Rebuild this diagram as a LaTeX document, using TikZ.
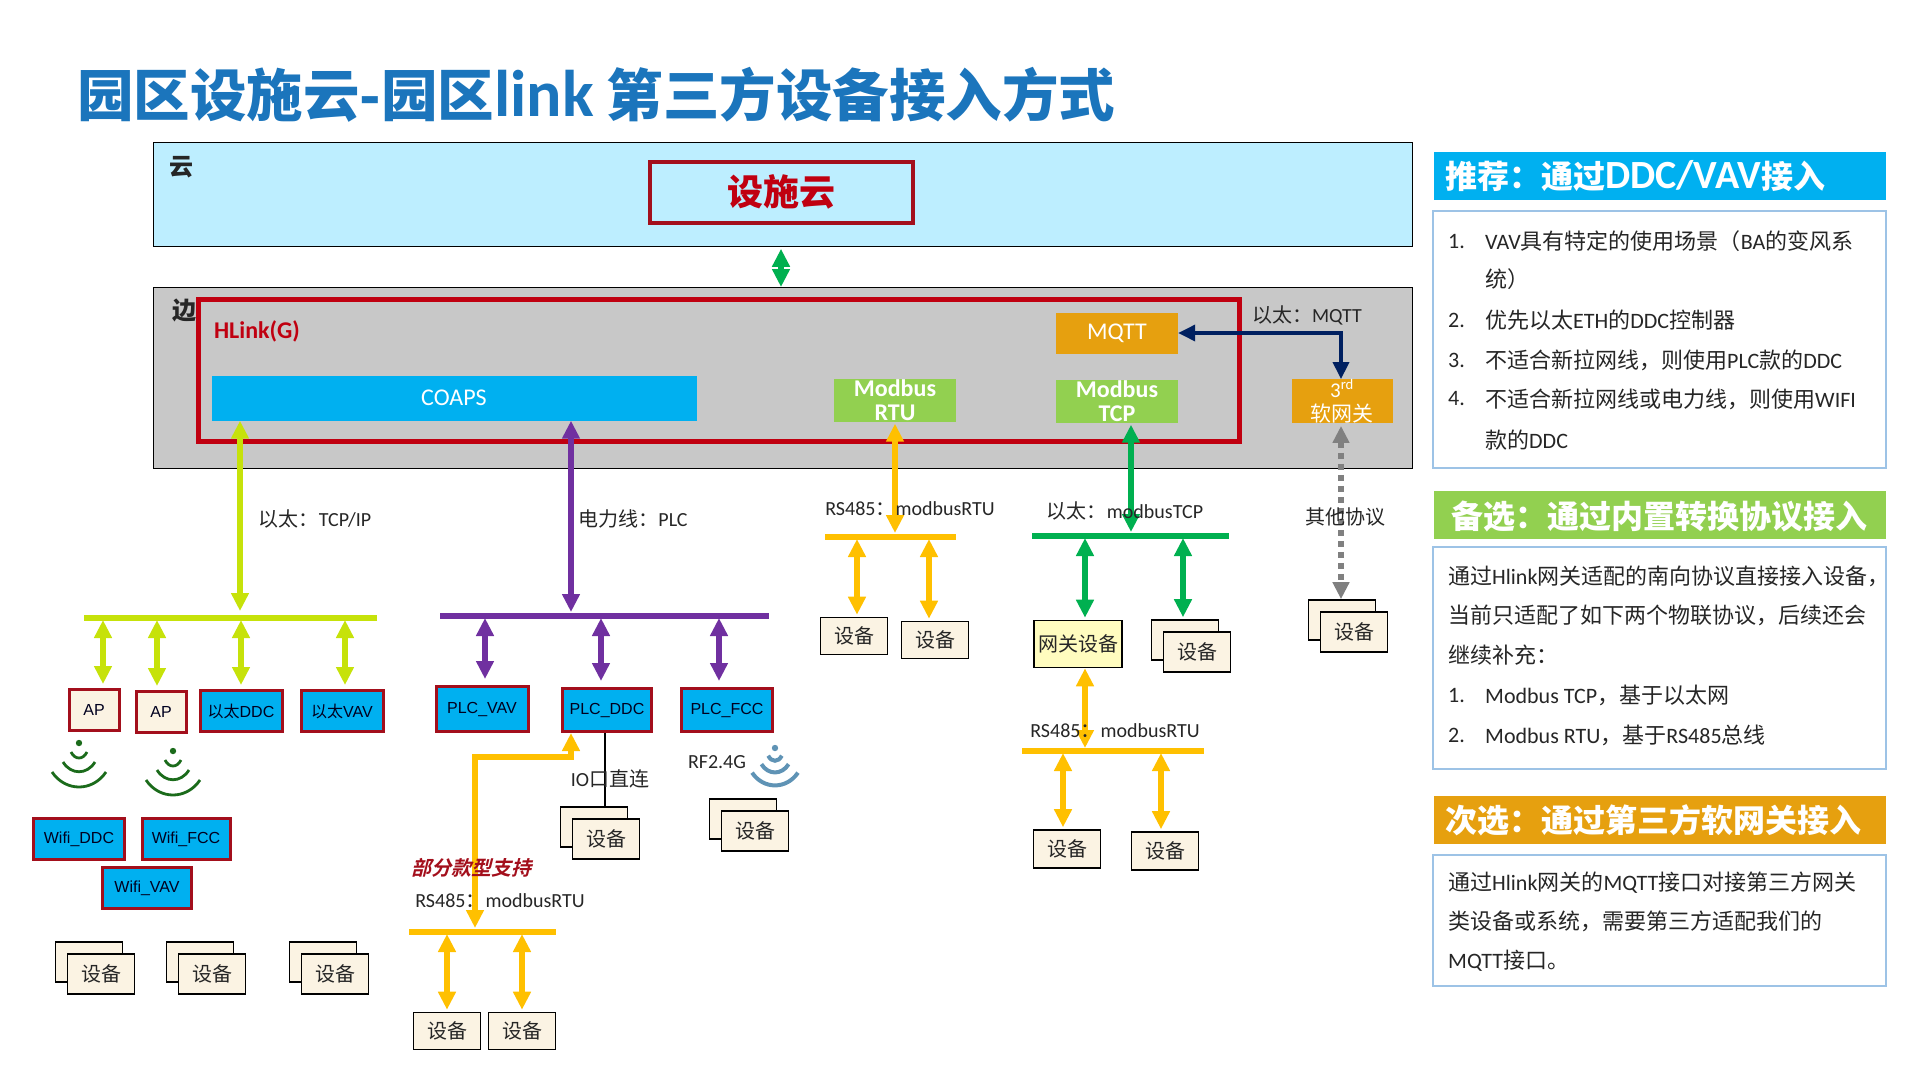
\documentclass[tikz,border=0pt]{standalone}
\usepackage{fontspec}
\setmainfont{Carlito}
\newfontfamily\cjk{Noto Sans CJK SC}
\newfontfamily\cjkslant[FakeSlant=0.25]{Noto Sans CJK SC Bold}
\newfontfamily\arial{Liberation Sans}
\usetikzlibrary{arrows.meta,calc}
\newcommand{\zh}[1]{{\cjk #1}}
\definecolor{cloudblue}{HTML}{BDEEFF}
\definecolor{edgegray}{HTML}{C8C8C8}
\definecolor{hred}{HTML}{C00010}
\definecolor{dred}{HTML}{A30F1C}
\definecolor{cblue}{HTML}{00B0F0}
\definecolor{cgreen}{HTML}{92D050}
\definecolor{corange}{HTML}{E6A00F}
\definecolor{clime}{HTML}{C6E20A}
\definecolor{cpurple}{HTML}{7030A0}
\definecolor{cyellow}{HTML}{FFC000}
\definecolor{cemerald}{HTML}{00B050}
\definecolor{cnavy}{HTML}{002060}
\definecolor{cream}{HTML}{FBF3E3}
\definecolor{panelline}{HTML}{9DC3E6}
\definecolor{titleblue}{HTML}{1B75BC}
\definecolor{wifigreen}{HTML}{1B6B1B}
\definecolor{wifiblue}{HTML}{5F93B5}
\tikzset{
	every node/.style={inner sep=0pt,text=black!85},
	biarrow/.style={<->,>={Triangle[length=18pt,width=17pt]},line width=5.5pt},
	busline/.style={line width=5.5pt},
	blockbox/.style={fill=#1,text=white,minimum width=122,minimum height=43,align=center,font=\fontsize{24}{24}\selectfont},
	ctrlbox/.style={draw=dred,line width=3pt,fill=cblue,minimum width=#1,minimum height=41,text=black!88!blue,font=\arial\fontsize{16}{18}\selectfont},
	devbox/.style={draw=black,line width=1.6pt,fill=cream,minimum width=67,minimum height=40,font=\fontsize{20}{22}\selectfont},
	lbl/.style={anchor=center,font=\fontsize{20}{22}\selectfont},
	panelhead/.style={fill=#1,minimum width=452,anchor=north west,minimum height=48},
	headtext/.style={anchor=west,text=white,font=\fontsize{32}{34}\selectfont\bfseries},
	panelbox/.style={draw=panelline,line width=2pt,fill=white,minimum width=453,anchor=north west},
	ptext/.style={anchor=west,font=\fontsize{22}{24}\selectfont}
}
\begin{document}
\begin{tikzpicture}[x=1pt,y=-1pt,line join=miter]
	\useasboundingbox (0,0) rectangle (1920,1080);
	\node[anchor=west,text=titleblue,font=\fontsize{56.500}{59}\selectfont\bfseries] (title) at (77,95) {\zh{园区设施云-园区}{\fontsize{66}{70}\selectfont link} \zh{第三方设备接入方式}};
	% cloud and edge layers
	\node[draw=black,fill=cloudblue,line width=.8pt,minimum width=1259,minimum height=104,anchor=north west] (cloud) at (152.500,142) {};
	\node[draw=black,fill=edgegray,line width=.8pt,minimum width=1259,minimum height=181,anchor=north west] (edge) at (152.500,287) {};
	\node[font=\fontsize{24}{26}\selectfont\bfseries] (yun) at (181,167) {\zh{云}};
	\node[font=\fontsize{24}{26}\selectfont\bfseries] (bian) at (184,310) {\zh{边}};
	\node[draw=dred,line width=4pt,minimum width=263,minimum height=61,text=hred,font=\fontsize{36}{38}\selectfont\bfseries] (facility) at (781,192) {\zh{设施云}};
	\node[draw=hred,line width=5pt,minimum width=1041,minimum height=142,anchor=north west] (hlink) at (196,297) {};
	\node[anchor=center,text=hred,font=\fontsize{24}{24}\selectfont\bfseries] (hlinklbl) at (257,331) {HLink(G)};
	\node[blockbox=cblue,minimum width=485,minimum height=45] (coaps) at (454,398) {COAPS};
	\node[blockbox=corange,minimum height=41] (mqtt) at (1117,333) {\raisebox{-2pt}{MQTT}};
	\node[blockbox=cgreen,font=\fontsize{24}{24}\selectfont\bfseries] (rtu) at (895,400) {Modbus\\RTU};
	\node[blockbox=cgreen,font=\fontsize{24}{24}\selectfont\bfseries] (tcp) at (1117,401) {Modbus\\TCP};
	\node[blockbox=corange,minimum width=101,font=\fontsize{21}{23}\selectfont] (soft) at (1342,401) {3\textsuperscript{rd}\\[1pt]\zh{软网关}};
	% devices
	\node[ctrlbox=50,fill=cream] (apa) at (94,710) {AP};
	\node[ctrlbox=50,fill=cream] (apb) at (161,712) {AP};
	\node[ctrlbox=82] (ethddc) at (241,711) {\zh{以太}DDC};
	\node[ctrlbox=82] (ethvav) at (342,711) {\zh{以太}VAV};
	\node[ctrlbox=91] (wifiddc) at (79,839) {Wifi\_DDC};
	\node[ctrlbox=88] (wififcc) at (186,839) {Wifi\_FCC};
	\node[ctrlbox=89] (wifivav) at (147,888) {Wifi\_VAV};
	\node[ctrlbox=92,minimum height=45] (plcvav) at (482,709) {PLC\_VAV};
	\node[ctrlbox=89,minimum height=43] (plcddc) at (607,710) {PLC\_DDC};
	\node[ctrlbox=91,minimum height=43] (plcfcc) at (727,710) {PLC\_FCC};
	\foreach \n/\x/\y in {a/89/962,b/200/962,c/323/962,d/594/827,e/743/819,f/1185/640,g/1342/620}{
		\node[devbox] (back\n) at (\x,\y) {};
		\node[devbox] (dev\n) at ($(back\n)+(12,12)$) {\zh{设备}};
	}
	\node[devbox,minimum height=37] (devh) at (447,1031) {\zh{设备}};
	\node[devbox,minimum height=37] (devi) at (522,1031) {\zh{设备}};
	\node[devbox,minimum height=37] (devj) at (854,636) {\zh{设备}};
	\node[devbox,minimum height=37] (devk) at (935,640) {\zh{设备}};
	\node[devbox,fill=yellow!25,minimum width=88,minimum height=47,font=\fontsize{20}{22}\selectfont] (gateway) at (1078,644) {\zh{网关设备}};
	\node[devbox,minimum height=38] (devl) at (1067,849) {\zh{设备}};
	\node[devbox,minimum height=38] (devm) at (1165,851) {\zh{设备}};
	% bus ends and tap points
	\coordinate (limeL) at (84,618);
	\coordinate (limeR) at (377,618);
	\coordinate (purpleL) at (440,616);
	\coordinate (purpleR) at (769,616);
	\coordinate (yellowL) at (825,537);
	\coordinate (yellowR) at (956,537);
	\coordinate (greenL) at (1032,536);
	\coordinate (greenR) at (1229,536);
	\coordinate (lowL) at (409,932);
	\coordinate (lowR) at (556,932);
	\coordinate (midL) at (1022,751);
	\coordinate (midR) at (1204,751);
	\draw[busline,clime] (limeL) -- (limeR);
	\draw[busline,cpurple] (purpleL) -- (purpleR);
	\draw[busline,cyellow] (yellowL) -- (yellowR);
	\draw[busline,cemerald] (greenL) -- (greenR);
	\draw[busline,cyellow] (lowL) -- (lowR);
	\draw[busline,cyellow] (midL) -- (midR);
	\foreach \n/\x/\y in {limeA/103/620,limeB/157/620,limeC/241/620,limeD/345/620,limeT/240/614,
		purpleA/485/618,purpleB/601/618,purpleC/719/618,purpleT/571/612,
		yellowA/857/539,yellowB/929/539,yellowT/895/533,
		greenA/1085/538,greenB/1183/538,greenT/1131/532,
		lowA/447/934,lowB/522/934,lowT/475/928,midA/1063/753,midB/1161/753,midT/1085/748}
		\coordinate (\n) at (\x,\y);
	\coordinate (softTap) at (1341,333);
	\coordinate (ddcTap) at (571,757);
	\coordinate (lowTurn) at (475,757);
	\coordinate (ioTap) at (605,757);
	% connectors
	\draw[biarrow,cemerald] (facility.south |- cloud.south) ++(0,2) coordinate (arrA) -- (arrA |- edge.north);
	\draw[biarrow,clime,shorten >=3pt] (limeT |- coaps.south) -- (limeT);
	\foreach \t/\n in {limeA/apa,limeB/apb,limeC/ethddc,limeD/ethvav}
		\draw[biarrow,clime,shorten >=4pt] (\t) -- (\t |- \n.north);
	\draw[biarrow,cpurple] (purpleT |- coaps.south) -- (purpleT);
	\foreach \t/\n in {purpleA/plcvav,purpleB/plcddc,purpleC/plcfcc}
		\draw[biarrow,cpurple,shorten >=6pt] (\t) -- (\t |- \n.north);
	\draw[biarrow,cyellow,shorten <=2pt] (yellowT |- rtu.south) -- (yellowT);
	\foreach \t/\n in {yellowA/devj,yellowB/devk}
		\draw[biarrow,cyellow,shorten >=2pt] (\t) -- (\t |- \n.north);
	\draw[biarrow,cemerald,shorten <=2pt] (greenT |- tcp.south) -- (greenT);
	\foreach \t/\n in {greenA/gateway,greenB/backf}
		\draw[biarrow,cemerald,shorten >=2pt] (\t) -- (\t |- \n.north);
	\draw[<->,>={Triangle[length=17pt,width=16pt]},line width=3.5pt,cnavy] (mqtt.east) -- (softTap) -- (softTap |- soft.north);
	\draw[<->,>={Triangle[length=17pt,width=16pt]},line width=6pt,gray,dash pattern=on 6pt off 5pt,shorten <=3pt] (softTap |- soft.south) -- (softTap |- backg.north);
	\draw[biarrow,cyellow] (lowT) -- (lowTurn) -- (lowTurn -| ddcTap) -- (ddcTap |- plcddc.south);
	\foreach \t/\n in {lowA/devh,lowB/devi}
		\draw[biarrow,cyellow,shorten >=2pt] (\t) -- (\t |- \n.north);
	\draw[biarrow,cyellow] (gateway.south -| midT) -- (midT);
	\foreach \t/\n in {midA/devl,midB/devm}
		\draw[biarrow,cyellow,shorten >=2pt] (\t) -- (\t |- \n.north);
	\draw[line width=1.4pt,black] (ioTap |- plcddc.south) -- (ioTap |- backd.north);
	% wifi marks
	\foreach \cx/\cy/\c/\s/\w in {79/743/wifigreen/1/2.8,173/751/wifigreen/1/2.8,775/748/wifiblue/.85/4}{
		\fill[\c] (\cx,\cy) circle (3.2);
		\foreach \r/\e/\d in {8/9/8,16/19/13,27/29/20}
			\draw[\c,line width=\w pt] ($(\cx,\cy)+\s*(-\r,\e)$) .. controls ($(\cx,\cy)+\s*(-\r*.5,\e+\d)$) and ($(\cx,\cy)+\s*(\r*.5,\e+\d)$) .. ($(\cx,\cy)+\s*(\r,\e)$);
	}
	% link labels
	\node[lbl] (lblmqtt) at (1307,315) {\zh{以太：}MQTT};
	\node[lbl] (lbltcpip) at (315,519) {\zh{以太：}TCP/IP};
	\node[lbl] (lblplc) at (633,519) {\zh{电力线：}PLC};
	\node[lbl] (lblrtu) at (910,509) {RS485\zh{：}modbusRTU};
	\node[lbl] (lbltcp) at (1125,511) {\zh{以太：}modbusTCP};
	\node[lbl] (lblother) at (1345,517) {\zh{其他协议}};
	\node[lbl] (lblio) at (610,779) {IO\zh{口直连}};
	\node[lbl] (lblrf) at (717,762) {RF2.4G};
	\node[lbl,text=dred,font=\fontsize{20}{22}\selectfont\cjkslant] (lblpart) at (471,868) {部分款型支持};
	\node[lbl] (lbllow) at (500,901) {RS485\zh{：}modbusRTU};
	\node[lbl] (lblmid) at (1115,731) {RS485\zh{：}modbusRTU};
	% right panels
	\node[panelhead=cblue] (heada) at (1434,152) {};
	\node[headtext] (headatxt) at (1445,176) {\zh{推荐：通过}{\fontsize{40}{42}\selectfont DDC/VAV}\zh{接入}};
	\node[panelbox,minimum height=257] (boxa) at (1432,210) {};
	\foreach \y/\n/\t in {241/1./VAV\zh{具有特定的使用场景（}BA\zh{的变风系},279//\zh{统）},320/2./\zh{优先以太}ETH\zh{的}DDC\zh{控制器},360/3./\zh{不适合新拉网线，则使用}PLC\zh{款的}DDC,399/4./\zh{不适合新拉网线或电力线，则使用}WIFI,440//\zh{款的}DDC}{
		\node[ptext] at (1448,\y) {\n};
		\node[ptext] at (1485,\y) {\t};
	}
	\node[panelhead=cgreen] (headb) at (1434,491) {};
	\node[headtext] (headbtxt) at (1451,516) {\zh{备选：通过内置转换协议接入}};
	\node[panelbox,minimum height=222] (boxb) at (1432,546) {};
	\foreach \y/\t in {576/\zh{通过}Hlink\zh{网关适配的南向协议直接接入设备，},615/\zh{当前只适配了如下两个物联协议，后续还会},655/\zh{继续补充：}}
		\node[ptext] at (1448,\y) {\t};
	\foreach \y/\n/\t in {695/1./Modbus TCP\zh{，基于以太网},735/2./Modbus RTU\zh{，基于}RS485\zh{总线}}{
		\node[ptext] at (1448,\y) {\n};
		\node[ptext] at (1485,\y) {\t};
	}
	\node[panelhead=corange] (headc) at (1434,796) {};
	\node[headtext] (headctxt) at (1445,820) {\zh{次选：通过第三方软网关接入}};
	\node[panelbox,minimum height=131] (boxc) at (1432,854) {};
	\foreach \y/\t in {883/\zh{通过}Hlink\zh{网关的}MQTT\zh{接口对接第三方网关},921/\zh{类设备或系统，需要第三方适配我们的},961/MQTT\zh{接口。}}
		\node[ptext] at (1448,\y) {\t};
\end{tikzpicture}
\end{document}
